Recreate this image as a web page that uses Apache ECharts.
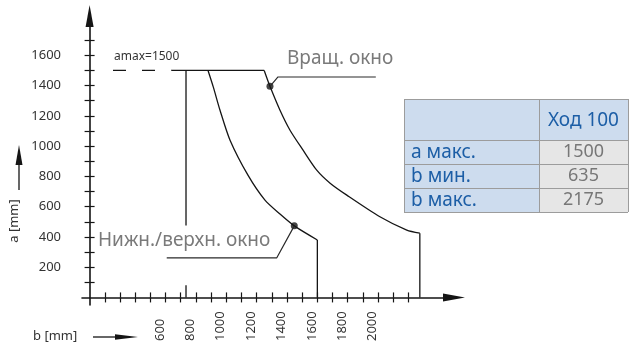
<!DOCTYPE html>
<html>
<head>
<meta charset="utf-8">
<script src="https://cdn.jsdelivr.net/npm/echarts@6/dist/echarts.min.js"></script>
<style>
  html, body { margin: 0; padding: 0; background: #ffffff; }
  #chart { width: 629px; height: 351px; }
</style>
</head>
<body>
<div id="chart"></div>
<script>
// Stroke 100 working envelope: a (height) against b (width), both in mm
const aMax = 1500;
const bMin = 635;
const bMax = 2175;

// Rotation window boundary (b, a)
const rotB = [1150, 1188, 1254, 1320, 1406, 1496, 1584, 1694, 1912, 2089, 2175];
const rotA = [1500, 1395, 1237, 1105, 973, 841, 755, 676, 533, 445, 425];

// Lower/upper window boundary (b, a)
const lowB = [780, 815, 859, 925, 1043, 1155, 1254, 1348, 1500];
const lowA = [1500, 1390, 1237, 1039, 808, 643, 551, 473, 380];

// Left limit line at b min: upper piece ends here, plus the short foot at the axis
const bMinLineEndA = 475;
const bMinFootA = 80;

// Dashed start of the a max line
const aMaxDashB = [154, 540];

// Callout leaders (from the marked point to the caption)
const rotCalloutB = [1188, 1241, 1885];
const rotCalloutA = [1395, 1457, 1457];
const lowCalloutB = [1348, 1233, 508];
const lowCalloutA = [473, 262, 262];

// Axis ticks and tick labels
const xTicks = [100, 200, 300, 400, 500, 600, 700, 800, 900, 1000, 1100, 1200, 1300, 1400, 1500, 1600, 1700, 1800, 1900, 2000, 2100];
const xTickLabels = [600, 800, 1000, 1200, 1400, 1600, 1800, 2000];
const yTicks = [100, 200, 300, 400, 500, 600, 700, 800, 900, 1000, 1100, 1200, 1300, 1400, 1500, 1600, 1700];
const yTickLabels = [200, 400, 600, 800, 1000, 1200, 1400, 1600];

// Table
const tableHeader = 'Ход 100';
const tableRowNames = ['a макс.', 'b мин.', 'b макс.'];
const tableValues = [aMax, bMin, bMax];

const FONT = '"Noto Sans", "Open Sans", sans-serif';
const INK = '#151515';
const CAPTION = '#7a7a7a';
const BLUE = '#1c5ea6';

const pairs = (bs, as) => bs.map((b, i) => [b, as[i]]);
const plain = (v) => String(Math.round(v));

const lineSeries = (data, extra) => Object.assign({
  type: 'line',
  data: data,
  symbol: 'none',
  silent: true,
  animation: false,
  lineStyle: { color: INK, width: 1.3 },
  xAxisIndex: 0,
  yAxisIndex: 0
}, extra || {});

const axisLineStyle = { color: INK, width: 1.6 };

const chart = echarts.init(document.getElementById('chart'), null, { renderer: 'canvas' });

// table graphics
const tX0 = 404, tX1 = 539, tX2 = 628;
const tY = [99, 140, 164, 188, 212];
const tableGraphics = [];
tableGraphics.push({ type: 'rect', shape: { x: tX0, y: tY[0], width: tX2 - tX0, height: tY[1] - tY[0] }, style: { fill: '#cddcee' } });
tableGraphics.push({ type: 'rect', shape: { x: tX0, y: tY[1], width: tX1 - tX0, height: tY[4] - tY[1] }, style: { fill: '#cddcee' } });
tableGraphics.push({ type: 'rect', shape: { x: tX1, y: tY[1], width: tX2 - tX1, height: tY[4] - tY[1] }, style: { fill: '#e6e6e6' } });
tY.forEach(function (y) {
  tableGraphics.push({ type: 'line', shape: { x1: tX0, y1: y + 0.5, x2: tX2, y2: y + 0.5 }, style: { stroke: '#9c9c9c', lineWidth: 1 } });
});
[tX0, tX1, tX2].forEach(function (x) {
  tableGraphics.push({ type: 'line', shape: { x1: x + 0.5, y1: tY[0], x2: x + 0.5, y2: tY[4] }, style: { stroke: '#9c9c9c', lineWidth: 1 } });
});
tableGraphics.push({
  type: 'text', x: (tX1 + tX2) / 2, y: (tY[0] + tY[1]) / 2 + 1,
  style: { text: tableHeader, font: '19px ' + FONT, fill: BLUE, align: 'center', verticalAlign: 'middle' }
});
tableRowNames.forEach(function (name, i) {
  const cy = (tY[i + 1] + tY[i + 2]) / 2;
  tableGraphics.push({
    type: 'text', x: 411, y: cy + 1,
    style: { text: name, font: '19px ' + FONT, fill: BLUE, align: 'left', verticalAlign: 'middle' }
  });
  tableGraphics.push({
    type: 'text', x: (tX1 + tX2) / 2, y: cy,
    style: { text: String(tableValues[i]), font: '18px ' + FONT, fill: '#777777', align: 'center', verticalAlign: 'middle' }
  });
});

const option = {
  backgroundColor: '#ffffff',
  animation: false,
  grid: { left: 82, right: 175, top: 16, bottom: 46, containLabel: false },
  xAxis: [
    {
      type: 'value', min: -50, max: 2400, position: 'bottom',
      axisLine: { onZero: true, onZeroAxisIndex: 0, symbol: ['none', 'triangle'], symbolSize: [8, 22], lineStyle: axisLineStyle },
      axisTick: { show: true, customValues: xTicks, length: 5, lineStyle: { color: INK, width: 1.2 } },
      axisLabel: { show: false },
      splitLine: { show: false }
    },
    {
      type: 'value', min: -50, max: 2400, position: 'bottom',
      axisLine: { show: false, onZero: true, onZeroAxisIndex: 0 },
      axisTick: { show: true, inside: true, customValues: xTicks, length: 5, lineStyle: { color: INK, width: 1.2 } },
      axisLabel: { show: false },
      splitLine: { show: false }
    },
    {
      // tick labels of the b scale
      type: 'value', min: 86, max: 2536, position: 'bottom',
      axisLine: { show: false, onZero: false },
      axisTick: { show: false },
      axisLabel: {
        show: true, customValues: xTickLabels, rotate: 90, margin: 36,
        align: 'left', verticalAlign: 'middle', formatter: plain,
        fontFamily: FONT, fontSize: 13, color: '#333333'
      },
      splitLine: { show: false }
    }
  ],
  yAxis: [
    {
      type: 'value', min: -50, max: 1860, position: 'left',
      axisLine: { onZero: true, onZeroAxisIndex: 0, symbol: ['none', 'triangle'], symbolSize: [8, 22], lineStyle: axisLineStyle },
      axisTick: { show: true, customValues: yTicks, length: 5, lineStyle: { color: INK, width: 1.2 } },
      axisLabel: { show: true, customValues: yTickLabels, margin: 21, formatter: plain, fontFamily: FONT, fontSize: 13, color: '#333333' },
      splitLine: { show: false }
    },
    {
      type: 'value', min: -50, max: 1860, position: 'left',
      axisLine: { show: false, onZero: true, onZeroAxisIndex: 0 },
      axisTick: { show: true, inside: true, customValues: yTicks, length: 5, lineStyle: { color: INK, width: 1.2 } },
      axisLabel: { show: false },
      splitLine: { show: false }
    }
  ],
  series: [
    // a max: dashed lead-in, then the solid top edge
    lineSeries(pairs(aMaxDashB, [aMax, aMax]), { lineStyle: { color: INK, width: 1.3, type: [13, 16] } }),
    lineSeries([[aMaxDashB[1], aMax], [rotB[0], aMax]]),
    // rotation window
    lineSeries(pairs(rotB, rotA), { smooth: 0.25 }),
    lineSeries([[bMax, rotA[rotA.length - 1]], [bMax, 0]]),
    // lower/upper window
    lineSeries(pairs(lowB, lowA), { smooth: 0.25 }),
    lineSeries([[lowB[lowB.length - 1], lowA[lowA.length - 1]], [lowB[lowB.length - 1], 0]]),
    // b min limit
    lineSeries([[bMin, aMax], [bMin, bMinLineEndA]]),
    lineSeries([[bMin, 0], [bMin, bMinFootA]]),
    // callout leaders
    lineSeries(pairs(rotCalloutB, rotCalloutA), { lineStyle: { color: '#2a2a2a', width: 1.2 } }),
    lineSeries(pairs(lowCalloutB, lowCalloutA), { lineStyle: { color: '#2a2a2a', width: 1.2 } }),
    // marked points
    {
      type: 'scatter', silent: true, animation: false,
      data: [[rotCalloutB[0], rotCalloutA[0]], [lowCalloutB[0], lowCalloutA[0]]],
      symbol: 'circle', symbolSize: 7, itemStyle: { color: INK }
    }
  ],
  graphic: [
    { type: 'text', x: 114, y: 57, silent: true,
      style: { text: 'amax=' + aMax, font: '12px ' + FONT, fill: '#333333', align: 'left', verticalAlign: 'middle' } },
    { type: 'text', x: 287, y: 59, silent: true,
      style: { text: 'Вращ. окно', font: '19px ' + FONT, fill: CAPTION, align: 'left', verticalAlign: 'middle' } },
    { type: 'text', x: 98, y: 241, silent: true,
      style: { text: 'Нижн./верхн. окно', font: '19px ' + FONT, fill: CAPTION, align: 'left', verticalAlign: 'middle' } },
    // axis names with their arrows
    { type: 'text', x: 14, y: 221, rotation: Math.PI / 2, silent: true,
      style: { text: 'a [mm]', font: '13px ' + FONT, fill: '#333333', align: 'center', verticalAlign: 'middle' } },
    { type: 'line', silent: true, shape: { x1: 19, y1: 190, x2: 19, y2: 160 }, style: { stroke: INK, lineWidth: 1.3 } },
    { type: 'polygon', silent: true, shape: { points: [[19, 145], [15.5, 165], [22.5, 165]] }, style: { fill: INK } },
    { type: 'text', x: 33, y: 336, silent: true,
      style: { text: 'b [mm]', font: '13px ' + FONT, fill: '#333333', align: 'left', verticalAlign: 'middle' } },
    { type: 'line', silent: true, shape: { x1: 93, y1: 337, x2: 120, y2: 337 }, style: { stroke: INK, lineWidth: 1.3 } },
    { type: 'polygon', silent: true, shape: { points: [[138, 337], [115, 334.3], [115, 339.7]] }, style: { fill: INK } }
  ].concat(tableGraphics)
};

chart.setOption(option);
</script>
</body>
</html>
